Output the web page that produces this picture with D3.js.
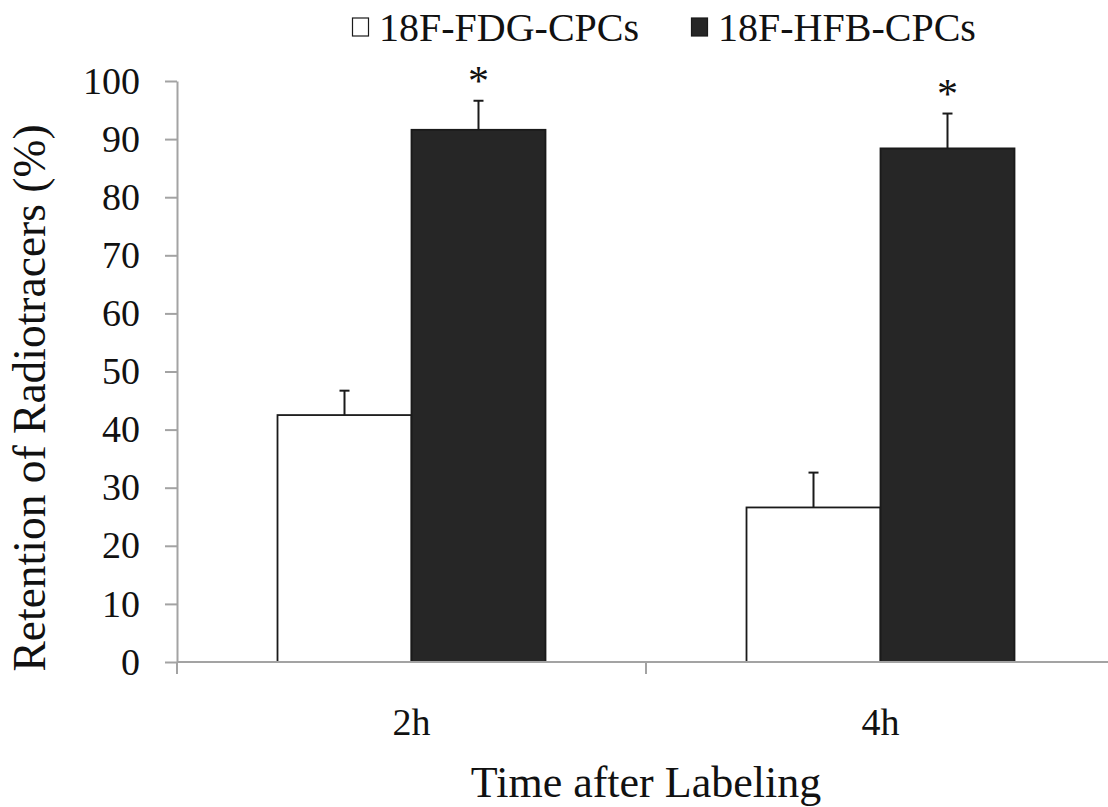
<!DOCTYPE html>
<html>
<head>
<meta charset="utf-8">
<script src="https://cdn.jsdelivr.net/npm/d3@7"></script>
<style>
  body { margin: 0; background: #fff; }
  svg text { fill: #111; }
</style>
</head>
<body>
<script>
// data
const categories = ["2h", "4h"];
const seriesNames = ["18F-FDG-CPCs", "18F-HFB-CPCs"];
const fdgValues = [42.5, 26.6];
const fdgErrors = [4.2, 6.0];
const hfbValues = [91.6, 88.4];
const hfbErrors = [5.0, 6.0];
const significant = [false, true]; // asterisk per series
const yTicks = [0, 10, 20, 30, 40, 50, 60, 70, 80, 90, 100];

const w = 1108, h = 807;
const margin = { top: 81, right: -7, bottom: 145, left: 177 };
const serif = "Liberation Serif";

const svg = d3.select("body").append("svg")
    .attr("width", w)
    .attr("height", h)
    .attr("font-family", serif);

//scales
const y = d3.scaleLinear()
    .domain([0, 100])
    .range([h - margin.bottom, margin.top]);

const x0 = d3.scaleBand()
    .domain(categories)
    .range([margin.left, w - margin.right])
    .paddingInner(0.4286)
    .paddingOuter(0.2143);

const x1 = d3.scaleBand()
    .domain(seriesNames)
    .range([0, x0.bandwidth()]);

const fills = { "18F-FDG-CPCs": "#ffffff", "18F-HFB-CPCs": "#262626" };

//build rows from the arrays
const rows = [];
categories.forEach((c, i) => {
    rows.push({ cat: c, s: seriesNames[0], v: fdgValues[i], e: fdgErrors[i], star: significant[0] });
    rows.push({ cat: c, s: seriesNames[1], v: hfbValues[i], e: hfbErrors[i], star: significant[1] });
});

const axisColor = "#a3a3a3";

//y axis
const yAxis = d3.axisLeft(y)
    .tickValues(yTicks)
    .tickSizeInner(12)
    .tickSizeOuter(0)
    .tickPadding(25);

const yg = svg.append("g")
    .attr("transform", `translate(${margin.left},0)`)
    .call(yAxis)
    .attr("font-family", serif)
    .attr("font-size", 38);
yg.select(".domain").attr("stroke", axisColor).attr("stroke-width", 2);
yg.selectAll(".tick line").attr("stroke", axisColor).attr("stroke-width", 2);
yg.selectAll(".tick text").attr("fill", "#111");

//bars
svg.selectAll(".bar")
    .data(rows)
    .enter()
    .append("rect")
    .attr("class", "bar")
    .attr("x", d => x0(d.cat) + x1(d.s))
    .attr("y", d => y(d.v))
    .attr("width", x1.bandwidth())
    .attr("height", d => y(0) - y(d.v))
    .attr("fill", d => fills[d.s])
    .attr("stroke", "#1a1a1a")
    .attr("stroke-width", 1.8);

//error bars (upper only)
const cx = d => x0(d.cat) + x1(d.s) + x1.bandwidth() / 2;
svg.selectAll(".err")
    .data(rows)
    .enter()
    .append("line")
    .attr("class", "err")
    .attr("x1", cx).attr("x2", cx)
    .attr("y1", d => y(d.v))
    .attr("y2", d => y(d.v + d.e))
    .attr("stroke", "#1a1a1a")
    .attr("stroke-width", 2);

svg.selectAll(".cap")
    .data(rows)
    .enter()
    .append("line")
    .attr("class", "cap")
    .attr("x1", d => cx(d) - 5).attr("x2", d => cx(d) + 5)
    .attr("y1", d => y(d.v + d.e))
    .attr("y2", d => y(d.v + d.e))
    .attr("stroke", "#1a1a1a")
    .attr("stroke-width", 2);

//asterisks
svg.selectAll(".star")
    .data(rows.filter(d => d.star))
    .enter()
    .append("text")
    .attr("class", "star")
    .attr("text-anchor", "middle")
    .attr("x", cx)
    .attr("y", d => y(d.v + d.e) - 6)
    .attr("font-size", 42)
    .text("*");

//x axis line and boundary ticks
const x0Range = x0.range();
svg.append("line")
    .attr("x1", x0Range[0]).attr("x2", x0Range[1])
    .attr("y1", y(0)).attr("y2", y(0))
    .attr("stroke", axisColor)
    .attr("stroke-width", 2);

const bounds = d3.range(categories.length + 1).map(i => x0Range[0] + i * x0.step());
svg.selectAll(".xtick")
    .data(bounds)
    .enter()
    .append("line")
    .attr("class", "xtick")
    .attr("x1", d => d).attr("x2", d => d)
    .attr("y1", y(0)).attr("y2", y(0) + 12)
    .attr("stroke", axisColor)
    .attr("stroke-width", 2);

svg.selectAll(".xlabel")
    .data(categories)
    .enter()
    .append("text")
    .attr("class", "xlabel")
    .attr("text-anchor", "middle")
    .attr("x", d => x0(d) + x0.bandwidth() / 2)
    .attr("y", y(0) + 73)
    .attr("font-size", 38)
    .text(d => d);

//axis titles
svg.append("text")
    .attr("text-anchor", "middle")
    .attr("x", x0Range[0] + x0.step())
    .attr("y", 797)
    .attr("font-size", 44)
    .text("Time after Labeling");

svg.append("text")
    .attr("text-anchor", "middle")
    .attr("transform", "translate(45,398) rotate(-90)")
    .attr("font-size", 45.5)
    .text("Retention of Radiotracers (%)");

//legend
const legendX = [352, 691];
const legend = svg.selectAll(".legend")
    .data(seriesNames)
    .enter()
    .append("g")
    .attr("class", "legend")
    .attr("transform", (d, i) => `translate(${legendX[i]},0)`);

legend.append("rect")
    .attr("x", 0.5)
    .attr("y", 18)
    .attr("width", 16)
    .attr("height", 18)
    .attr("fill", d => fills[d])
    .attr("stroke", "#1a1a1a")
    .attr("stroke-width", 1.2);

legend.append("text")
    .attr("x", 27)
    .attr("y", 41)
    .attr("font-size", 40)
    .text(d => d);
</script>
</body>
</html>
